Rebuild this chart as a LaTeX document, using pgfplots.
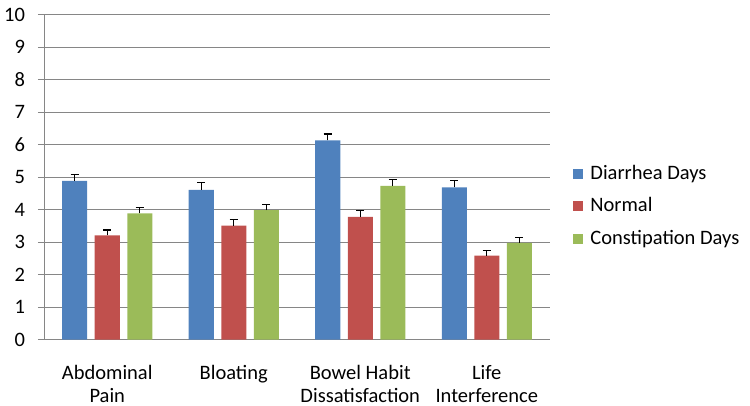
\documentclass[border=0pt]{standalone}
\usepackage{fontspec}
\setmainfont{Carlito}
\usepackage{pgfplots}
\pgfplotsset{compat=1.18}
\definecolor{cblue}{HTML}{4F81BD}
\definecolor{cred}{HTML}{C0504D}
\definecolor{cgreen}{HTML}{9BBB59}
\definecolor{cgrid}{RGB}{134,134,134}
\begin{document}
\fontsize{20.5bp}{23bp}\selectfont
\begin{tikzpicture}
\useasboundingbox (0,0) rectangle (750bp,406bp);
\begin{axis}[
  at={(44bp,66.5bp)}, anchor=south west,
  scale only axis, width=506bp, height=325bp,
  ybar=7.5bp, bar width=25bp,
  xmin=-0.5, xmax=3.5, ymin=0, ymax=10,
  ytick={0,1,...,10},
  xtick={0,1,2,3},
  xticklabels={{Abdominal\\Pain},Bloating,{Bowel Habit\\Dissatisfaction},{Life\\Interference}},
  xticklabel style={align=center, anchor=north, yshift=-13bp, font=\fontsize{20.5bp}{22.5bp}\selectfont},
  major x tick style={draw=none},
  extra x ticks={-0.5,0.5,1.5,2.5,3.5},
  extra x tick labels={},
  extra x tick style={grid=none, major tick length=6bp, tick style={cgrid, line width=0.8bp}},
  axis x line*=bottom, axis y line*=left,
  axis line style={cgrid, line width=0.8bp},
  tick align=outside, major tick length=6bp,
  y tick style={cgrid, line width=0.8bp},
  ymajorgrids, grid style={cgrid, line width=0.8bp},
  tick label style={font=\fontsize{20.5bp}{23bp}\selectfont, text=black},
  yticklabel style={xshift=-6bp},
  /pgf/number format/assume math mode=true,
  legend style={draw=none, fill=none, at={(1.04,0.41)}, anchor=west,
    font=\fontsize{20.5bp}{23bp}\selectfont, row sep=11bp,
    /tikz/every odd column/.append style={column sep=5bp}},
  legend cell align=left,
  legend image code/.code={\fill[#1] (0bp,-5bp) rectangle (10bp,5bp);},
  error bars/y dir=plus, error bars/y explicit,
  error bars/error mark options={rotate=90, mark size=4bp, line width=1.2bp, black},
  error bars/error bar style={line width=1.2bp, black},
]
\addplot[fill=cblue, draw=none] coordinates {
  (0,4.88) +- (0,0.20)
  (1,4.60) +- (0,0.22)
  (2,6.13) +- (0,0.19)
  (3,4.68) +- (0,0.21)
};
\addplot[fill=cred, draw=none] coordinates {
  (0,3.20) +- (0,0.17)
  (1,3.50) +- (0,0.18)
  (2,3.77) +- (0,0.19)
  (3,2.58) +- (0,0.16)
};
\addplot[fill=cgreen, draw=none] coordinates {
  (0,3.88) +- (0,0.17)
  (1,3.98) +- (0,0.17)
  (2,4.73) +- (0,0.19)
  (3,2.97) +- (0,0.18)
};
\legend{Diarrhea Days, Normal, Constipation Days}
\end{axis}
\end{tikzpicture}
\end{document}
